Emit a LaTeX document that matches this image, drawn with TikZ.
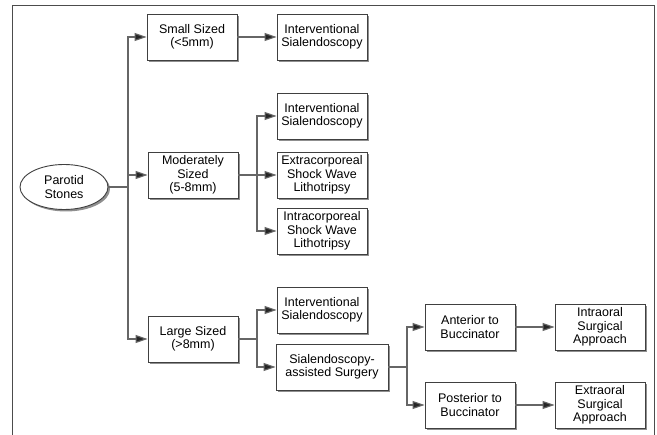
\documentclass[tikz,border=0pt]{standalone}
\usepackage{fontspec}
\setmainfont{Liberation Sans}
\usetikzlibrary{positioning, shapes.geometric, shadows, arrows.meta}

\tikzset{
  box/.style={draw=black!75, line width=0.9pt, fill=white, align=center,
    minimum width=90pt, minimum height=46pt, inner sep=2pt,
    font=\fontsize{12.5}{13.5}\selectfont,
    drop shadow={shadow xshift=2pt, shadow yshift=-2pt, fill=black!55, opacity=0.8}},
  link/.style={draw=black!60, line width=1.1pt},
  arr/.style={link, -{Triangle[length=12pt, width=8pt, fill=black!85]}}
}

\begin{document}
\begin{tikzpicture}[x=1pt, y=-1pt]
  \useasboundingbox (0,0) rectangle (657,435);
  % frame
  \draw[black!70, line width=1pt] (12,435) -- (12,6) -- (654,6) -- (654,435);

  \node[box, ellipse, minimum width=88pt, minimum height=45pt] (parotid) at (64,187) {Parotid\\Stones};

  \node[box] (small)    at (192,37)  {Small Sized\\(<5mm)};
  \node[box] (moderate) at (193,175) {Moderately\\Sized\\(5-8mm)};
  \node[box] (large)    at (193,339) {Large Sized\\(>8mm)};

  \node[box] (interv 1) at (322,37)  {Interventional\\Sialendoscopy};
  \node[box] (interv 2) at (322,116) {Interventional\\Sialendoscopy};
  \node[box] (extra)    at (322,175) {Extracorporeal\\Shock Wave\\Lithotripsy};
  \node[box] (intra)    at (322,231) {Intracorporeal\\Shock Wave\\Lithotripsy};
  \node[box] (interv 3) at (322,310) {Interventional\\Sialendoscopy};
  \node[box, minimum width=112pt] (assisted) at (332,367) {Sialendoscopy-\\assisted Surgery};

  \node[box] (anterior)  at (470,327) {Anterior to\\Buccinator};
  \node[box] (posterior) at (470,405) {Posterior to\\Buccinator};
  \node[box] (intraoral) at (600,327) {Intraoral\\Surgical\\Approach};
  \node[box] (extraoral) at (600,405) {Extraoral\\Surgical\\Approach};

  % connectors
  \draw[link] (parotid.east) -- (128,187) coordinate (trunk);
  \draw[arr] (trunk) |- (small.west);
  \draw[arr] (trunk) |- (moderate.west);
  \draw[arr] (trunk) |- (large.west);

  \draw[arr] (small) -- (interv 1);

  \draw[link] (moderate.east) -- (257,175) coordinate (mod fork);
  \draw[arr] (mod fork) |- (interv 2.west);
  \draw[arr] (mod fork) -- (extra.west);
  \draw[arr] (mod fork) |- (intra.west);

  \draw[link] (large.east) -- (257,339) coordinate (large fork);
  \draw[arr] (large fork) |- (interv 3.west);
  \draw[arr] (large fork) |- (assisted.west);

  \draw[link] (assisted.east) -- (407,367) coordinate (surg fork);
  \draw[arr] (surg fork) |- (anterior.west);
  \draw[arr] (surg fork) |- (posterior.west);

  \draw[arr] (anterior) -- (intraoral);
  \draw[arr] (posterior) -- (extraoral);
\end{tikzpicture}
\end{document}
